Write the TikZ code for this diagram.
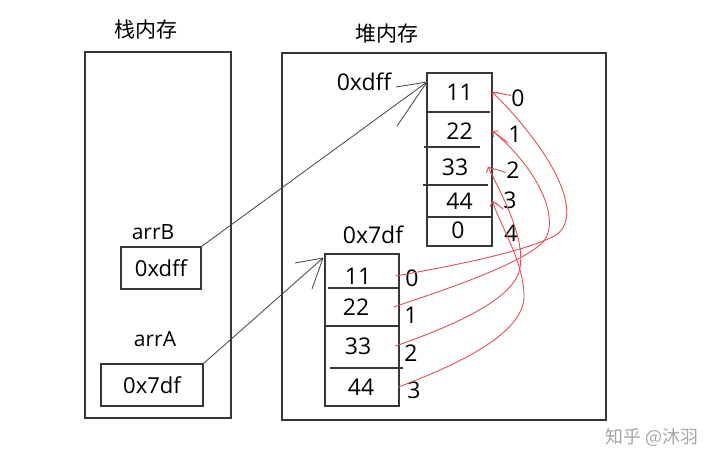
\documentclass[tikz,border=0pt]{standalone}
\usepackage{fontspec}
\setmainfont{Open Sans}
\newfontfamily\cjk{Noto Sans CJK SC}
\usepackage{xcolor}
\usepackage{tikz}
\usetikzlibrary{arrows.meta}
\definecolor{linkred}{RGB}{222,80,88}
\definecolor{frame}{RGB}{55,55,55}

\begin{document}
\begin{tikzpicture}[x=0.5pt, y=-0.5pt,
  region/.style={draw=frame, line width=0.65pt, inner sep=0pt},
  varbox/.style={draw=frame, line width=0.6pt, inner sep=0pt,
                 minimum height=21pt, font=\fontsize{11}{13}\selectfont},
  ucell/.style={minimum width=32.5pt, inner sep=0pt,
                font=\fontsize{11.5}{13}\selectfont},
  lcell/.style={minimum width=37pt, inner sep=0pt,
                font=\fontsize{11.5}{13}\selectfont},
  title/.style={font=\cjk\fontsize{10.5}{12}\selectfont},
  lbl/.style={inner sep=0pt, font=\fontsize{10.5}{12}\selectfont},
  idx/.style={inner sep=0pt, font=\fontsize{11.5}{13}\selectfont},
  ptr/.style={draw=black!75, line width=0.4pt},
  sep/.style={draw=frame, line width=0.55pt},
  link/.style={draw=linkred, line width=0.45pt},
  linkar/.style={link, -{Straight Barb[length=2pt,width=4pt]}},
]
  \useasboundingbox (0,0) rectangle (720,466);

  %% memory regions
  \node[title] (tStack) at (146,30) {栈内存};
  \node[title] (tHeap)  at (387,34) {堆内存};
  \node[region, minimum width=73pt, minimum height=183pt]  (stack) at (158,235) {};
  \node[region, minimum width=162pt, minimum height=183.5pt] (heap) at (444,236.5) {};

  %% stack variables
  \node[lbl] (nB) at (153,232) {arrB};
  \node[varbox, minimum width=40pt] (bB) at (161,268) {0xdff};
  \node[lbl] (nA) at (155,339) {arrA};
  \node[varbox, minimum width=51pt] (bA) at (152,385) {0x7df};

  %% heap array 0xdff
  \node[lbl, font=\fontsize{11.5}{13}\selectfont] (lblB) at (364,82) {0xdff};
  \node[region, minimum width=32.5pt, minimum height=86.5pt] (arrUp) at (459.5,159.5) {};
  \node[ucell] (up0) at (459.5,92)  {11};
  \node[ucell] (up1) at (459.5,131) {22};
  \node[ucell] (up2) at (455,167)   {33};
  \node[ucell] (up3) at (459.5,201) {44};
  \node[ucell] (up4) at (458,230)   {0};
  \foreach \y/\a/\b in {112/427/490, 147/424/480, 185/423/488, 217/427/492}
    \draw[sep] (\a,\y) -- (\b,\y);

  %% heap array 0x7df
  \node[lbl, font=\fontsize{11.5}{13}\selectfont] (lblA) at (373,235) {0x7df};
  \node[region, minimum width=37pt, minimum height=76pt] (arrLo) at (362,330) {};
  \node[lcell] (lo0) at (358,276) {11};
  \node[lcell] (lo1) at (356,307) {22};
  \node[lcell] (lo2) at (358,346) {33};
  \node[lcell] (lo3) at (361,387) {44};
  \foreach \y/\a/\b in {288/328/399, 326/325/399, 368/330/403}
    \draw[sep] (\a,\y) -- (\b,\y);

  %% index labels
  \node[idx] (iu0) at (518,98)  {0};
  \node[idx] (iu1) at (515,134) {1};
  \node[idx] (iu2) at (513,170) {2};
  \node[idx] (iu3) at (510,200) {3};
  \node[idx] (iu4) at (511,233) {4};
  \node[idx] (il0) at (412,278) {0};
  \node[idx] (il1) at (411,315) {1};
  \node[idx] (il2) at (411,353) {2};
  \node[idx] (il3) at (414,390) {3};

  %% references stack -> heap
  \coordinate (tipB) at (427,82);
  \coordinate (tipA) at (323,258);
  \draw[ptr] (bB.north east) -- (tipB);
  \draw[ptr] (tipB) -- ++(-31,5);
  \draw[ptr] (tipB) -- ++(-30,44);
  \draw[ptr] (bA.north east) -- (tipA);
  \draw[ptr] (tipA) -- ++(-28,5);
  \draw[ptr] (tipA) -- ++(-11,31);

  %% copied elements
  \draw[linkar] (lo0.east) .. controls (470,263) and (525,250) .. (550,238)
                .. controls (585,225) and (565,165) .. (up0.east);
  \draw[linkar] (lo1.east) .. controls (460,285) and (515,265) .. (540,245)
                .. controls (562,228) and (545,175) .. (up1.east);
  \draw[linkar] (lo2.east) .. controls (470,320) and (515,295) .. (520,268)
                .. controls (525,240) and (505,200) .. (up2.east);
  \draw[linkar] (lo3.east) .. controls (470,360) and (525,330) .. (524,295)
                .. controls (523,260) and (500,225) .. (up3.east);
  \draw[link] (iu0.160) -- (up0.east);
  \draw[link] (iu1.south west) -- (up1.east);
  \draw[link] (iu2.200) -- (up2.east);
  \draw[link] (iu3.south west) -- (up3.east);

  \node[font=\cjk\fontsize{9}{11}\selectfont, text=black!35] (mark) at (652,437) {知乎 @沐羽};
\end{tikzpicture}
\end{document}
